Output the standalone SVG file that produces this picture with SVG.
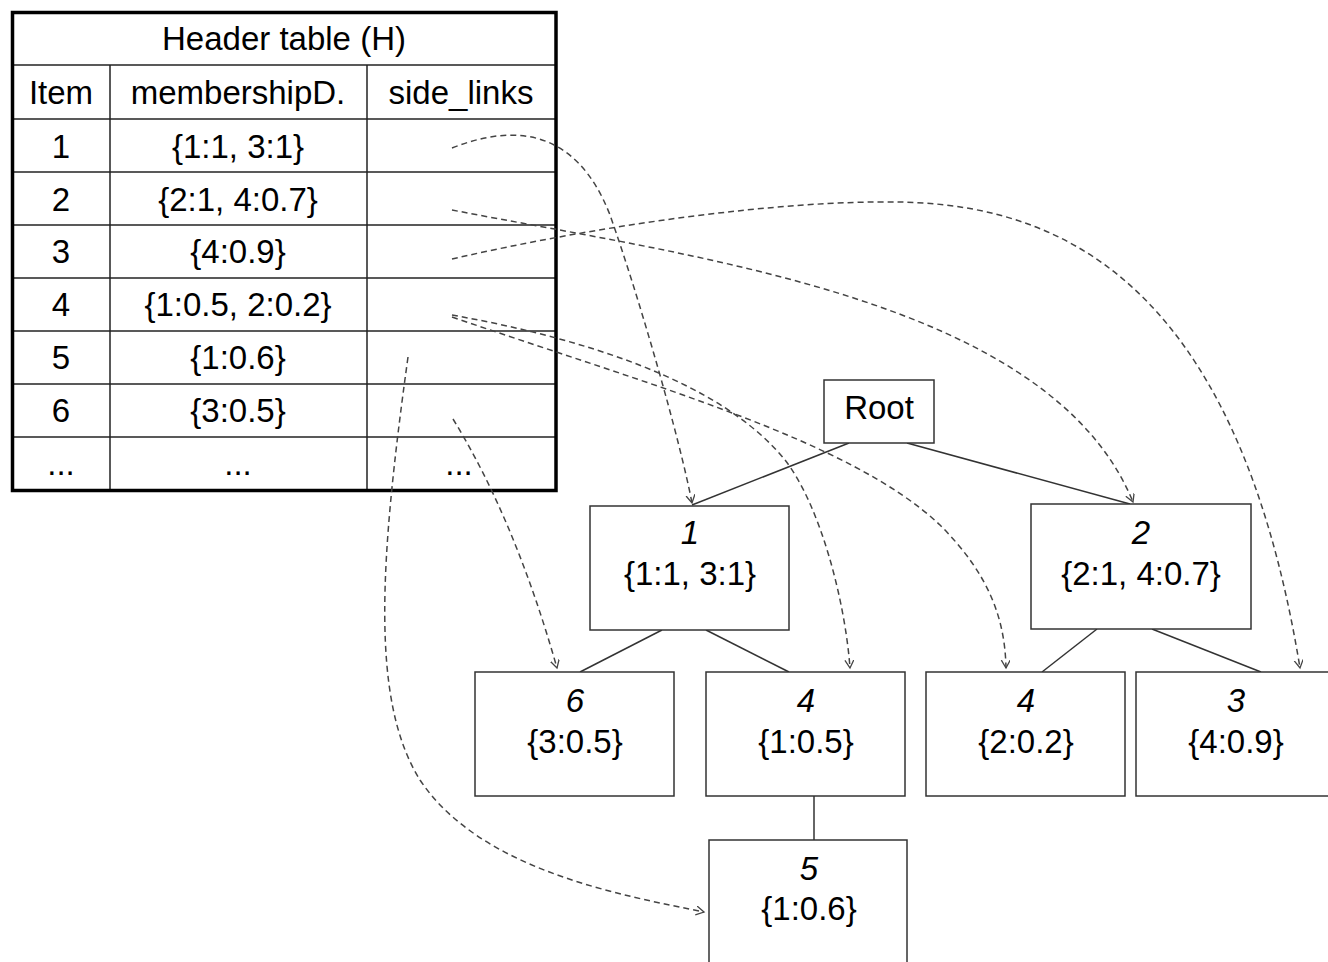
<svg xmlns="http://www.w3.org/2000/svg" width="1328" height="962" viewBox="0 0 1328 962">
<defs>
<style>
text{font-family:"Liberation Sans",Arial,sans-serif;font-size:33px;fill:#000;text-anchor:middle}
.it{font-style:italic}
.grid{stroke:#222;stroke-width:1.5;fill:none}
.outer{stroke:#000;stroke-width:3.5;fill:none}
.box{fill:#fff;stroke:#333;stroke-width:1.5}
.edge{stroke:#333;stroke-width:1.5;fill:none}
.link{stroke:#444;stroke-width:1.5;fill:none;stroke-dasharray:6 4;marker-end:url(#ah)}
</style>
<marker id="ah" markerUnits="userSpaceOnUse" markerWidth="12" markerHeight="12" refX="8" refY="4.5" orient="auto">
<path d="M0,0 L8,4.5 L0,9" fill="none" stroke="#444" stroke-width="1.3"/>
</marker>
</defs>
<rect width="1328" height="962" fill="#fff"/>

<g id="header-table">
<rect x="12.5" y="12.5" width="543.5" height="478" fill="#fff"/>
<line class="grid" x1="12" y1="65" x2="556" y2="65"/>
<line class="grid" x1="12" y1="119" x2="556" y2="119"/>
<line class="grid" x1="12" y1="172" x2="556" y2="172"/>
<line class="grid" x1="12" y1="225" x2="556" y2="225"/>
<line class="grid" x1="12" y1="278" x2="556" y2="278"/>
<line class="grid" x1="12" y1="331" x2="556" y2="331"/>
<line class="grid" x1="12" y1="384" x2="556" y2="384"/>
<line class="grid" x1="12" y1="437" x2="556" y2="437"/>
<line class="grid" x1="110" y1="65" x2="110" y2="490"/>
<line class="grid" x1="367" y1="65" x2="367" y2="490"/>
<rect class="outer" x="12.5" y="12.5" width="543.5" height="478"/>
<text x="284" y="50">Header table (H)</text>
<text x="61" y="104">Item</text>
<text x="238" y="104">membershipD.</text>
<text x="461" y="104">side_links</text>
<text x="61" y="158">1</text><text x="238" y="158">{1:1, 3:1}</text>
<text x="61" y="211">2</text><text x="238" y="211">{2:1, 4:0.7}</text>
<text x="61" y="263">3</text><text x="238" y="263">{4:0.9}</text>
<text x="61" y="316">4</text><text x="238" y="316">{1:0.5, 2:0.2}</text>
<text x="61" y="369">5</text><text x="238" y="369">{1:0.6}</text>
<text x="61" y="422">6</text><text x="238" y="422">{3:0.5}</text>
<text x="61" y="475">...</text><text x="238" y="475">...</text><text x="459" y="475">...</text>
</g>

<g id="tree-edges">
<line class="edge" x1="849" y1="443" x2="692" y2="505"/>
<line class="edge" x1="907" y1="443" x2="1130" y2="504"/>
<line class="edge" x1="662" y1="630" x2="580" y2="672"/>
<line class="edge" x1="706" y1="630" x2="789" y2="672"/>
<line class="edge" x1="1097" y1="629" x2="1042" y2="672"/>
<line class="edge" x1="1152" y1="629" x2="1261" y2="672"/>
<line class="edge" x1="814" y1="796" x2="814" y2="840"/>
</g>

<g id="node-root"><rect class="box" x="824" y="380" width="110" height="63"/><text x="879" y="419">Root</text></g>
<g id="node-1"><rect class="box" x="590" y="506" width="199" height="124"/><text class="it" x="690" y="544">1</text><text x="690" y="585">{1:1, 3:1}</text></g>
<g id="node-2"><rect class="box" x="1031" y="504" width="220" height="125"/><text class="it" x="1141" y="544">2</text><text x="1141" y="585">{2:1, 4:0.7}</text></g>
<g id="node-6"><rect class="box" x="475" y="672" width="199" height="124"/><text class="it" x="575" y="712">6</text><text x="575" y="753">{3:0.5}</text></g>
<g id="node-4a"><rect class="box" x="706" y="672" width="199" height="124"/><text class="it" x="806" y="712">4</text><text x="806" y="753">{1:0.5}</text></g>
<g id="node-4b"><rect class="box" x="926" y="672" width="199" height="124"/><text class="it" x="1026" y="712">4</text><text x="1026" y="753">{2:0.2}</text></g>
<g id="node-3"><rect class="box" x="1136" y="672" width="199" height="124"/><text class="it" x="1236" y="712">3</text><text x="1236" y="753">{4:0.9}</text></g>
<g id="node-5"><rect class="box" x="709" y="840" width="198" height="124"/><text class="it" x="809" y="880">5</text><text x="809" y="920">{1:0.6}</text></g>

<g id="side-links">
<path class="link" d="M452,148 C510,125 575,125 610,215 C640,300 680,440 692,503"/>
<path class="link" d="M452,210 C700,258 1050,300 1133,502"/>
<path class="link" d="M452,259 C600,225 780,200 900,202 C1050,205 1235,270 1300,668"/>
<path class="link" d="M452,315 C580,338 720,380 785,460 C820,505 845,600 850,668"/>
<path class="link" d="M452,317 C650,385 850,440 940,525 C990,575 1005,620 1006,668"/>
<path class="link" d="M408,357 C380,560 370,700 420,780 C480,870 620,895 704,912"/>
<path class="link" d="M453,419 Q515,520 557,668"/>
</g>
</svg>
